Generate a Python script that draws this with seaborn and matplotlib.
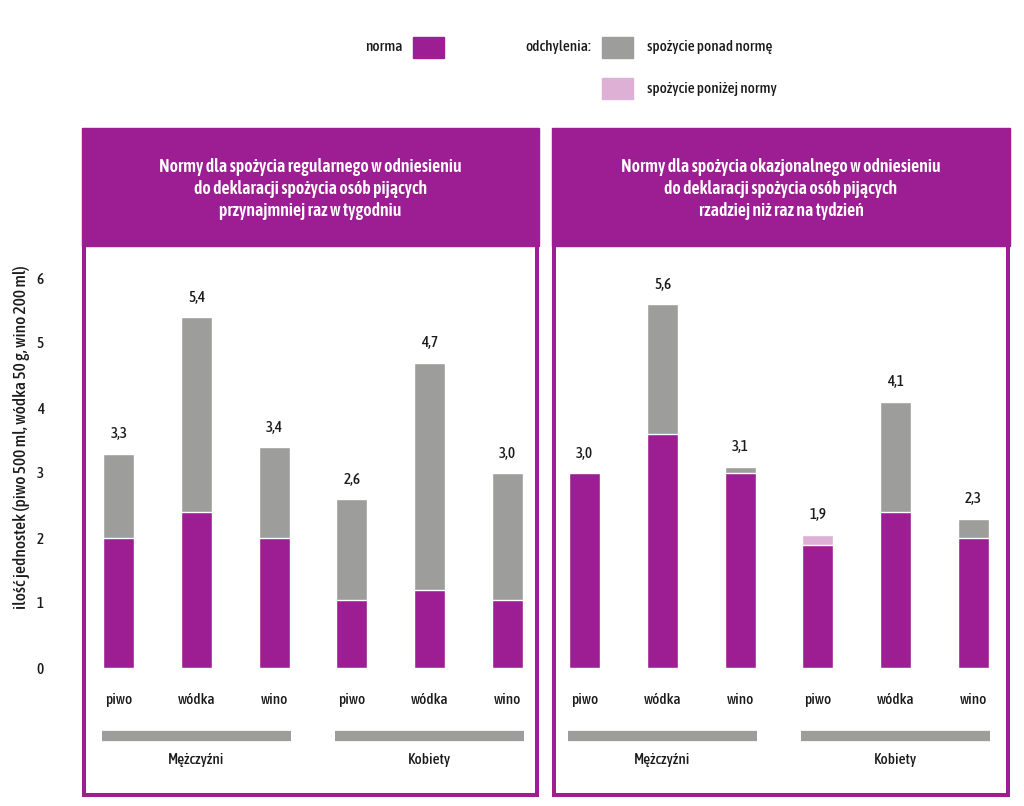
import numpy as np
import pandas as pd
import seaborn as sns
import matplotlib.pyplot as plt
from matplotlib import font_manager
from matplotlib.patches import Rectangle

sns.set_theme(style='white')

# pick a condensed humanist font similar to the original
installed = {f.name for f in font_manager.fontManager.ttflist}
FONT = next((n for n in ['Asap Condensed', 'Cabin Condensed', 'Barlow Semi Condensed']
             if n in installed), 'DejaVu Sans')
plt.rcParams['font.family'] = [FONT, 'DejaVu Sans']

# Data
drinks = ['piwo', 'wódka', 'wino', 'piwo', 'wódka', 'wino']
groups = ['Mężczyźni', 'Kobiety']
keys = ['M_piwo', 'M_wodka', 'M_wino', 'K_piwo', 'K_wodka', 'K_wino']

reg_declared = [3.3, 5.4, 3.4, 2.6, 4.7, 3.0]
reg_norm = [2.0, 2.4, 2.0, 1.05, 1.2, 1.05]
reg_labels = ['3,3', '5,4', '3,4', '2,6', '4,7', '3,0']

occ_declared = [3.0, 5.6, 3.1, 1.9, 4.1, 2.3]
occ_norm = [3.0, 3.6, 3.0, 2.05, 2.4, 2.0]
occ_labels = ['3,0', '5,6', '3,1', '1,9', '4,1', '2,3']

titles = [
    'Normy dla spożycia regularnego w odniesieniu\ndo deklaracji spożycia osób pijących\nprzynajmniej raz w tygodniu',
    'Normy dla spożycia okazjonalnego w odniesieniu\ndo deklaracji spożycia osób pijących\nrzadziej niż raz na tydzień',
]

PURPLE = '#9d1e92'
GRAY = '#9d9d9c'
PINK = '#dfb0d6'
TXT = '#1a1a1a'
FS = 11

W, H = 1024, 806
fig = plt.figure(figsize=(W / 100, H / 100), dpi=100)


def fx(px):
    return px / W


def fy(py):
    return 1 - py / H


def panel_box(x0, x1, title):
    # header band
    fig.patches.append(Rectangle((fx(x0), fy(246)), fx(x1) - fx(x0), fy(128) - fy(246),
                                 transform=fig.transFigure, color=PURPLE, zorder=0))
    # outline
    fig.patches.append(Rectangle((fx(x0 + 2), fy(795)), fx(x1 - 2) - fx(x0 + 2), fy(130) - fy(795),
                                 transform=fig.transFigure, fill=False, edgecolor=PURPLE,
                                 linewidth=2.9, zorder=0))
    fig.text(fx((x0 + x1) / 2), fy(189), title, color='white', fontsize=12.8,
             fontweight='semibold', ha='center', va='center', linespacing=1.3)


def bar_panel(ax, declared, norm, labels):
    df = pd.DataFrame({
        'key': keys,
        'declared': declared,
        'norm': norm,
    })
    df['upper'] = df[['declared', 'norm']].max(axis=1)
    df['lower'] = df[['declared', 'norm']].min(axis=1)
    df['dev'] = np.where(df['declared'] >= df['norm'], 'ponad', 'ponizej')

    sns.barplot(data=df, x='key', y='upper', hue='dev', order=keys,
                palette={'ponad': GRAY, 'ponizej': PINK}, dodge=False,
                width=0.4, legend=False, ax=ax, saturation=1)
    sns.barplot(data=df, x='key', y='lower', order=keys, color=PURPLE,
                width=0.4, ax=ax, saturation=1)

    for i, (top, lab) in enumerate(zip(df['upper'], labels)):
        ax.text(i, top + 0.3, lab, ha='center', va='center', fontsize=FS,
                fontweight='medium', color=TXT)

    ax.set_xlim(-0.5, 5.5)
    ax.set_ylim(0, 6.2)
    ax.set_xlabel('')
    ax.set_ylabel('')
    ax.set_xticks(range(6))
    ax.set_xticklabels(drinks, fontsize=FS, fontweight='medium', color=TXT)
    ax.tick_params(axis='x', length=0, pad=18)
    for s in ax.spines.values():
        s.set_visible(False)
    ax.patch.set_alpha(0)

    trans = ax.get_xaxis_transform()
    for g, (a, b) in enumerate([(-0.22, 2.22), (2.78, 5.22)]):
        ax.plot([a, b], [-0.1675, -0.1675], transform=trans, color=GRAY,
                linewidth=7.4, solid_capstyle='butt', clip_on=False)
        ax.text((a + b) / 2, -0.228, groups[g], transform=trans, ha='center',
                va='center', fontsize=FS, fontweight='medium', color=TXT)


panel_box(82, 539, titles[0])
panel_box(552, 1010, titles[1])

ax_l = fig.add_axes([fx(80), fy(668), fx(546) - fx(80), fy(265) - fy(668)])
ax_r = fig.add_axes([fx(546), fy(668), fx(1012) - fx(546), fy(265) - fy(668)])

bar_panel(ax_l, reg_declared, reg_norm, reg_labels)
bar_panel(ax_r, occ_declared, occ_norm, occ_labels)

ax_l.set_yticks(range(7))
ax_l.set_yticklabels([str(v) for v in range(7)], fontsize=FS, fontweight='medium', color=TXT)
ax_l.tick_params(axis='y', length=0, pad=26)
ax_r.set_yticks([])

fig.text(fx(22), fy(437), 'ilość jednostek (piwo 500 ml, wódka 50 g, wino 200 ml)',
         rotation=90, ha='center', va='center', fontsize=12.5, fontweight='medium', color=TXT)

# legend
fig.text(fx(403), fy(47), 'norma', ha='right', va='center', fontsize=FS,
         fontweight='medium', color=TXT)
fig.text(fx(591), fy(47), 'odchylenia:', ha='right', va='center', fontsize=FS,
         fontweight='medium', color=TXT)
for (y0, col, lab) in [(37, PURPLE, None), (37, GRAY, 'spożycie ponad normę'),
                       (78, PINK, 'spożycie poniżej normy')]:
    x0 = 413 if lab is None else 602
    fig.patches.append(Rectangle((fx(x0), fy(y0 + 21)), fx(31), 21 / H,
                                 transform=fig.transFigure, color=col))
    if lab:
        fig.text(fx(647), fy(y0 + 10.5), lab, ha='left', va='center', fontsize=FS,
                 fontweight='medium', color=TXT)

fig.savefig('out.png', dpi=100)
